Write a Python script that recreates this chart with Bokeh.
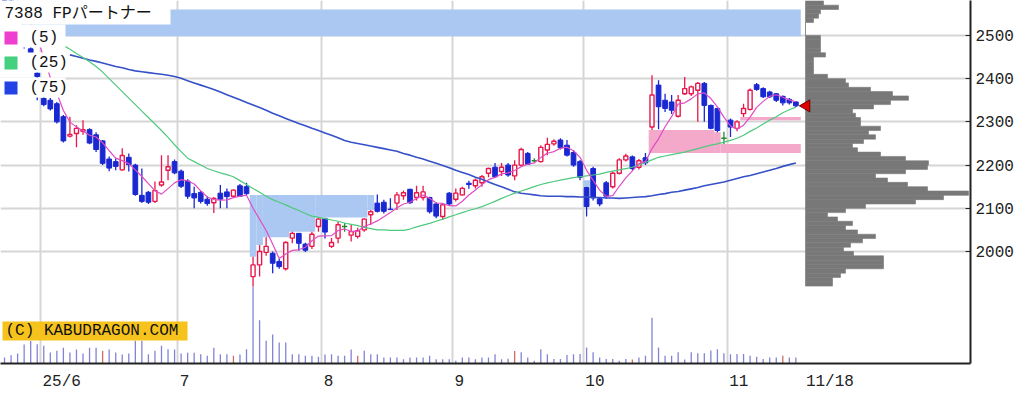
import numpy as np
import pandas as pd
from bokeh.plotting import figure
from bokeh.models import Range1d, FixedTicker, BoxAnnotation, Label
from bokeh.embed import file_html
from bokeh.resources import INLINE

# ---------------- data ----------------
title_text = "7388 FPパートナー"
ma_labels = ["(5)", "(25)", "(75)"]
copyright_text = "(C) KABUDRAGON.COM"
month_labels = ["25/6", "7", "8", "9", "10", "11"]
month_start_idx = [6, 27, 49, 69, 89, 111]
last_label = "11/18"
y_ticks = [2000, 2100, 2200, 2300, 2400, 2500]

opens = [2595, 2580, 2572, 2490, 2469, 2413, 2354, 2350, 2342, 2312,
         2267, 2273, 2278, 2282, 2270, 2256, 2214, 2208, 2189, 2218,
         2200, 2130, 2137, 2116, 2154, 2188, 2208, 2186, 2163, 2134,
         2137, 2121, 2113, 2135, 2138, 2128, 2152, 2150, 1942, 1969,
         1998, 1996, 1977, 1960, 2031, 2042, 2017, 2012, 2058, 2076,
         2012, 2031, 2058, 2038, 2035, 2050, 2085, 2112, 2114, 2098,
         2112, 2129, 2144, 2125, 2125, 2125, 2110, 2081, 2135, 2121,
         2131, 2158, 2152, 2159, 2181, 2195, 2185, 2200, 2175, 2200,
         2227, 2210, 2208, 2235, 2249, 2258, 2246, 2229, 2208, 2148,
         2192, 2122, 2159, 2150, 2181, 2212, 2219, 2195, 2217, 2288,
         2385, 2350, 2346, 2313, 2365, 2365, 2373, 2389, 2338, 2331,
         2262, 2304, 2285, 2319, 2329, 2386, 2377, 2369, 2365, 2359,
         2352, 2346]
highs = [2610, 2590, 2580, 2498, 2476, 2455, 2358, 2355, 2346, 2316,
         2312, 2292, 2304, 2285, 2276, 2258, 2220, 2216, 2239, 2227,
         2203, 2192, 2140, 2162, 2223, 2223, 2213, 2190, 2167, 2150,
         2140, 2128, 2126, 2154, 2146, 2144, 2156, 2159, 1988, 2015,
         2033, 2000, 1983, 2024, 2046, 2043, 2020, 2046, 2079, 2078,
         2031, 2069, 2066, 2062, 2055, 2077, 2096, 2132, 2120, 2123,
         2138, 2141, 2145, 2152, 2152, 2127, 2114, 2112, 2138, 2146,
         2150, 2164, 2169, 2177, 2194, 2205, 2205, 2205, 2211, 2240,
         2230, 2216, 2246, 2263, 2260, 2262, 2258, 2235, 2212, 2150,
         2196, 2125, 2163, 2185, 2216, 2226, 2222, 2214, 2228, 2408,
         2396, 2365, 2362, 2362, 2404, 2384, 2392, 2392, 2340, 2333,
         2277, 2308, 2304, 2342, 2377, 2390, 2380, 2372, 2367, 2361,
         2355, 2348]
lows = [2575, 2565, 2560, 2470, 2452, 2350, 2336, 2326, 2296, 2252,
        2264, 2241, 2270, 2248, 2230, 2200, 2186, 2188, 2187, 2185,
        2129, 2112, 2110, 2112, 2150, 2165, 2179, 2147, 2122, 2100,
        2111, 2106, 2089, 2100, 2100, 2125, 2126, 2131, 1919, 1942,
        1990, 1950, 1960, 1956, 2019, 2002, 1999, 2006, 2046, 2030,
        2008, 2019, 2046, 2023, 2030, 2046, 2062, 2090, 2088, 2096,
        2096, 2120, 2110, 2118, 2118, 2088, 2077, 2073, 2106, 2116,
        2129, 2145, 2146, 2150, 2172, 2170, 2175, 2173, 2165, 2196,
        2200, 2207, 2206, 2223, 2245, 2236, 2220, 2196, 2165, 2081,
        2118, 2105, 2122, 2146, 2178, 2208, 2188, 2190, 2200, 2281,
        2283, 2323, 2318, 2310, 2362, 2360, 2300, 2300, 2283, 2276,
        2249, 2265, 2278, 2311, 2326, 2372, 2355, 2355, 2346, 2338,
        2340, 2334]
closes = [2580, 2570, 2562, 2478, 2459, 2405, 2340, 2330, 2300, 2256,
          2271, 2285, 2282, 2251, 2236, 2204, 2193, 2197, 2222, 2201,
          2132, 2116, 2114, 2141, 2161, 2196, 2182, 2151, 2128, 2124,
          2116, 2111, 2123, 2121, 2127, 2142, 2128, 2134, 1969, 2000,
          2012, 1973, 1965, 2021, 2042, 2019, 2003, 2040, 2075, 2045,
          2021, 2062, 2058, 2046, 2048, 2075, 2092, 2093, 2093, 2097,
          2131, 2136, 2113, 2136, 2138, 2092, 2082, 2108, 2110, 2135,
          2146, 2155, 2165, 2173, 2192, 2173, 2195, 2177, 2200, 2236,
          2202, 2210, 2241, 2248, 2255, 2240, 2223, 2200, 2172, 2104,
          2124, 2110, 2128, 2181, 2212, 2221, 2192, 2210, 2205, 2362,
          2335, 2331, 2327, 2350, 2377, 2381, 2389, 2338, 2285, 2280,
          2262, 2288, 2300, 2331, 2373, 2375, 2358, 2358, 2350, 2344,
          2344, 2337]
volumes = [60, 83, 100, 190, 227, 193, 177, 110, 127, 157,
           110, 140, 100, 157, 157, 127, 140, 110, 90, 100,
           227, 227, 93, 127, 177, 143, 140, 100, 107, 107,
           93, 77, 157, 93, 93, 77, 90, 143, 770, 433,
           227, 290, 210, 210, 93, 93, 77, 77, 67, 90,
           93, 77, 77, 140, 77, 127, 93, 93, 60, 60,
           60, 43, 60, 60, 60, 77, 43, 43, 43, 27,
           60, 60, 43, 60, 60, 93, 43, 47, 126, 113,
           61, 27, 143, 92, 44, 44, 85, 92, 96, 160,
           113, 61, 44, 44, 27, 44, 41, 61, 78, 460,
           160, 78, 78, 113, 41, 113, 102, 102, 130, 143,
           102, 92, 96, 96, 78, 68, 44, 61, 61, 78,
           61, 61]
volume_marked = [15, 35, 54, 78, 96, 119]

ma25 = [None] * 7 + [
    2495, 2486, 2477, 2468, 2458, 2449, 2439, 2428, 2415, 2400,
    2385, 2370, 2355, 2340, 2325, 2310, 2295, 2280, 2264, 2247,
    2231, 2216, 2208, 2200, 2192, 2187, 2182, 2178, 2173, 2164,
    2155, 2146, 2137, 2128, 2120, 2114, 2108, 2101, 2095, 2088,
    2082, 2079, 2076, 2073, 2070, 2066, 2063, 2060, 2056, 2053,
    2050, 2050, 2049, 2049, 2049, 2052, 2057, 2061, 2065, 2070,
    2075, 2080, 2085, 2090, 2095, 2099, 2104, 2110, 2116, 2123,
    2129, 2135, 2140, 2145, 2150, 2155, 2159, 2162, 2165, 2168,
    2171, 2173, 2175, 2177, 2179, 2183, 2186, 2189, 2192, 2195,
    2200, 2206, 2212, 2218, 2221, 2224, 2227, 2230, 2234, 2238,
    2242, 2246, 2249, 2253, 2257, 2262, 2269, 2278, 2286, 2295,
    2304, 2312, 2321, 2328, 2334]
ma75 = [None] * 10 + [
    2455, 2451, 2447, 2443, 2440, 2436, 2432, 2428, 2425, 2421,
    2418, 2416, 2414, 2412, 2410, 2408, 2405, 2401, 2395, 2390,
    2385, 2380, 2375, 2369, 2363, 2357, 2351, 2345, 2339, 2333,
    2327, 2320, 2314, 2308, 2302, 2296, 2291, 2285, 2280, 2274,
    2269, 2263, 2257, 2253, 2250, 2247, 2244, 2241, 2238, 2235,
    2232, 2227, 2223, 2218, 2214, 2209, 2204, 2199, 2194, 2188,
    2183, 2178, 2172, 2167, 2161, 2155, 2150, 2144, 2138, 2135,
    2133, 2131, 2129, 2128, 2128, 2128, 2127, 2127, 2126, 2126,
    2125, 2125, 2124, 2124, 2123, 2124, 2125, 2126, 2127, 2129,
    2132, 2134, 2137, 2139, 2142, 2145, 2148, 2152, 2155, 2158,
    2161, 2165, 2169, 2173, 2176, 2180, 2184, 2188, 2192, 2197,
    2201, 2205]

profile_price = list(range(1920, 2580, 10))  # lower bound of each 10-yen bin
profile_volume = [270, 270, 350, 400, 780, 780, 780, 480, 380, 450,
                  570, 700, 520, 400, 470, 320, 220, 400, 600, 1100,
                  1380, 1630, 1220, 1020, 820, 700, 1000, 1220, 1230, 1000,
                  750, 520, 470, 580, 700, 630, 750, 550, 550, 500,
                  470, 680, 850, 1030, 870, 650, 430, 400, 220, 80,
                  80, 80, 80, 200, 150, 150, 150, 150, 0, 0,
                  0, 80, 130, 150, 330, 180]

# ---------------- colours ----------------
RED = "#e8184c"
BLUE = "#1a28d2"
GREEN = "#1e8c2a"
GAP_DOWN = "#aac8f2"
GAP_UP = "#f4a8ca"
GRID = "#d6d6d6"
PX_PER_DAY = 6.54

n = len(closes)
idx = np.arange(n)
o = np.array(opens, float); h = np.array(highs, float)
l = np.array(lows, float); c = np.array(closes, float)
ma5 = pd.Series(c).rolling(5).mean().to_numpy()

# ---------------- unfilled price gaps derived from OHLC ----------------
gaps = []
active = []
for i in range(1, n):
    keep = []
    for g in active:
        if g["kind"] == "down":
            g["bottom"] = max(g["bottom"], h[i])
            if g["bottom"] >= g["top"]:
                continue
        else:
            g["top"] = min(g["top"], l[i])
            if g["top"] <= g["bottom"]:
                continue
        g["segs"].append((i, g["bottom"], g["top"]))
        keep.append(g)
    if h[i] < l[i - 1]:
        g = {"kind": "down", "top": l[i - 1], "bottom": h[i], "segs": [(i, h[i], l[i - 1])]}
        gaps.append(g); keep.append(g)
    if l[i] > h[i - 1]:
        g = {"kind": "up", "top": l[i], "bottom": h[i - 1], "segs": [(i, h[i - 1], l[i])]}
        gaps.append(g); keep.append(g)
    active = keep

gl, gr, gb, gt, gc = [], [], [], [], []
for g in gaps:
    segs = g["segs"]
    start = 0
    for k in range(1, len(segs) + 1):
        if k == len(segs) or segs[k][1:] != segs[start][1:]:
            i0 = segs[start][0]; i1 = segs[k - 1][0]
            gl.append(i0 - 0.5)
            gr.append(i1 + (0.75 if i1 == n - 1 else 0.5))
            gb.append(segs[start][1]); gt.append(segs[start][2])
            gc.append(GAP_DOWN if g["kind"] == "down" else GAP_UP)
            start = k

# ---------------- figure ----------------
FRAME_H = 364
p = figure(width=1036, height=393,
           x_range=Range1d(-0.616, 147.7), y_range=Range1d(1740.9, 2580.8),
           output_backend="svg", toolbar_location=None, y_axis_location="right",
           min_border_left=0, min_border_top=0, min_border_right=66, min_border_bottom=29)
p.outline_line_color = None
p.background_fill_color = "white"
p.border_fill_color = "white"
p.extra_y_ranges = {"vol": Range1d(0, 3640)}
p.extra_x_ranges = {"prof": Range1d(-8050, 1650)}

# grid
p.xgrid.ticker = FixedTicker(ticks=[m - 0.5 for m in month_start_idx])
p.ygrid.ticker = FixedTicker(ticks=y_ticks)
for g in (p.xgrid, p.ygrid):
    g.grid_line_color = GRID
    g.grid_line_width = 2

# axes (labels sit just right of the month grid line)
all_labels = month_labels + [last_label]
xt = [m - 0.5 + (2 + 4.8 * len(s)) / PX_PER_DAY for m, s in zip(month_start_idx, month_labels)]
xt.append(n - 1 + (10 + 4.8 * len(last_label)) / PX_PER_DAY)
p.xaxis.ticker = FixedTicker(ticks=xt)
p.xaxis.major_label_overrides = {t: s for t, s in zip(xt, all_labels)}
p.xaxis.major_tick_line_color = None
p.xaxis.minor_tick_line_color = None
p.xaxis.major_label_standoff = 3
p.yaxis.ticker = FixedTicker(ticks=y_ticks)
p.yaxis.major_tick_in = 5
p.yaxis.major_tick_out = 0
p.yaxis.minor_tick_line_color = None
p.yaxis.major_tick_line_color = "#222222"
p.yaxis.major_label_standoff = 5
for ax in (p.xaxis, p.yaxis):
    ax.axis_line_color = "#222222"
    ax.axis_line_width = 2
    ax.major_label_text_font = "Liberation Mono"
    ax.major_label_text_font_size = "16px"
    ax.major_label_text_color = "#222222"

# gap regions
p.quad(left=gl, right=gr, bottom=gb, top=gt, fill_color=gc, line_color=None)

# volume profile
p.hbar(y=[v + 5 for v in profile_price], height=10, left=0, right=profile_volume,
       x_range_name="prof", fill_color="#787878", line_color="#787878", line_width=0.6)

# volume bars
vcol = ["#d06a6a" if i in volume_marked else "#8383d6" for i in range(n)]
p.segment(x0=idx, x1=idx, y0=0, y1=volumes, y_range_name="vol", line_color=vcol, line_width=1.3)

# candles
up = c > o
dn = c < o
dj = c == o
wcol = [RED if u else (BLUE if d else GREEN) for u, d in zip(up, dn)]
p.segment(x0=idx, x1=idx, y0=l, y1=h, line_color=wcol, line_width=1.3)
p.vbar(x=idx[dn], top=o[dn], bottom=c[dn], width=0.72, fill_color=BLUE, line_color=BLUE)
p.vbar(x=idx[up], top=c[up], bottom=o[up], width=0.62, fill_color="white", line_color=RED, line_width=1.4)
p.segment(x0=idx[dj] - 0.4, x1=idx[dj] + 0.4, y0=o[dj], y1=o[dj], line_color=GREEN, line_width=1.6)

# moving averages
ma25a = np.array([np.nan if v is None else v for v in ma25], float)
ma75a = np.array([np.nan if v is None else v for v in ma75], float)
p.line(idx, ma75a, line_color="#3550c8", line_width=1.6)
p.line(idx, ma25a, line_color="#4fc97e", line_width=1.2)
p.line(idx, ma5, line_color="#e04cc4", line_width=1.2)

# last price marker
p.scatter(x=[n - 1 + 1.6], y=[c[-1]], marker="triangle", angle=np.pi / 2, size=12,
          fill_color="#e00000", line_color="#700000")


# ---------------- annotations (screen units, y from frame bottom) ----------------
def sbox(left, right, top, bottom, color):
    p.add_layout(BoxAnnotation(left=left, right=right, top=FRAME_H - top, bottom=FRAME_H - bottom,
                               left_units="screen", right_units="screen",
                               top_units="screen", bottom_units="screen",
                               fill_color=color, fill_alpha=1.0, line_color=None))


def slabel(x, y, text, font="Liberation Mono, Noto Sans CJK JP"):
    p.add_layout(Label(x=x, y=FRAME_H - y, x_units="screen", y_units="screen", text=text,
                       text_font=font, text_font_size="16px", text_color="#111111",
                       text_align="left", text_baseline="middle"))


sbox(0, 170, 0, 25, "white")
sbox(0, 65, 25, 48, "white")
sbox(0, 65, 53, 73, "white")
sbox(0, 65, 78, 98, "white")
sbox(4, 17, 32, 45, "#ee3fd0")
sbox(4, 17, 57, 70, "#45d07f")
sbox(4, 17, 82, 95, "#2244e6")
sbox(2, 187, 322, 341, "#f6c31d")

slabel(4, 14, title_text)
for k, t in enumerate(ma_labels):
    slabel(29, 38.5 + 25 * k, t)
slabel(5, 331.5, copyright_text)

open("out.html", "w").write(file_html(p, INLINE))
